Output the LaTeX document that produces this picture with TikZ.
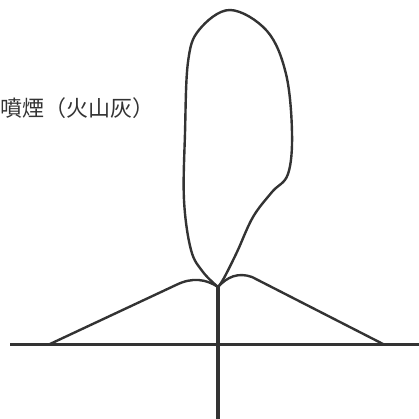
\documentclass[tikz,border=0pt]{standalone}
\usepackage{fontspec}
\newfontfamily\jpfont{Noto Sans CJK JP}

\definecolor{inkgray}{HTML}{333333}

\begin{document}
\begin{tikzpicture}[x=1pt,y=-1pt,
    outline/.style={draw=inkgray,line width=2.4pt,line join=round,line cap=round},
    vent/.style={draw=inkgray,line width=3.8pt}]
    \useasboundingbox (0,0) rectangle (419,419);

    %ground and conduit
    \draw[outline,line cap=butt] (10,344.5) -- (419,344.5);
    \coordinate (crater) at (218,287);
    \draw[vent] (crater) -- (218,419);

    %volcano cone
    \draw[outline] (50,344) -- (176,285)
        .. controls (192,277) and (206,279) .. (crater)
        .. controls (227,277) and (238,272) .. (252,277) -- (383,344);

    %eruption column
    \draw[outline] plot[smooth,tension=0.6] coordinates {(crater) (203,272) (191,250)
        (184,200) (185,133) (188,62) (199,30) (230,10) (267,31) (286,74) (292,133)
        (288,174) (272,192) (253,217) (237,252) (224,278) (crater)};

    %label
    \node[anchor=west,inner sep=0pt,text=inkgray,font=\jpfont\fontsize{22}{26}\selectfont] (plume) at (0,108) {噴煙（火山灰）};
\end{tikzpicture}
\end{document}
